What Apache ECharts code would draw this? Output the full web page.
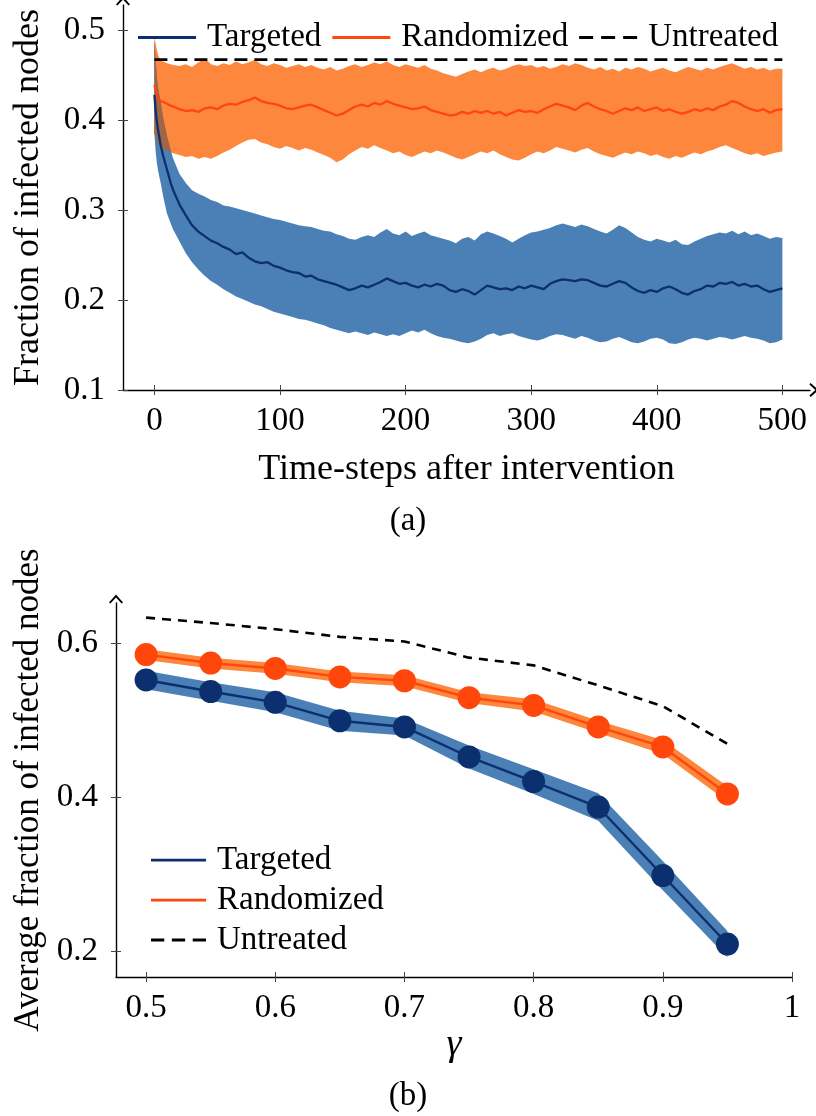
<!DOCTYPE html>
<html><head><meta charset="utf-8">
<script src="https://cdn.jsdelivr.net/npm/echarts@6/dist/echarts.min.js"></script>
<style>html,body{margin:0;padding:0;background:#fff}#c{width:816px;height:1116px}</style>
</head><body><div id="c"></div><script>
// ---------- Panel (a) data ----------
const timesA = [0,1,2,3,5,7,10,13,
 15,20,25,30,35,40,45,50,55,60,
 65,70,75,80,85,90,95,100,105,110,
 115,120,125,130,135,140,145,150,155,160,
 165,170,175,180,185,190,195,200,205,210,
 215,220,225,230,235,240,245,250,255,260,
 265,270,275,280,285,290,295,300,305,310,
 315,320,325,330,335,340,345,350,355,360,
 365,370,375,380,385,390,395,400,405,410,
 415,420,425,430,435,440,445,450,455,460,
 465,470,475,480,485,490,495,500];
const tgtMeanA = [0.428,0.410,0.398,0.388,0.372,0.360,0.345,0.330,
 0.322,0.306,0.294,0.283,0.276,0.271,0.266,0.263,0.259,0.256,
 0.251,0.253,0.247,0.243,0.241,0.242,0.238,0.236,0.233,0.231,
 0.230,0.226,0.227,0.223,0.221,0.219,0.217,0.214,0.211,0.213,
 0.216,0.214,0.217,0.220,0.224,0.221,0.218,0.219,0.216,0.214,
 0.217,0.215,0.218,0.216,0.211,0.209,0.212,0.210,0.206,0.211,
 0.216,0.214,0.212,0.213,0.211,0.215,0.213,0.216,0.214,0.212,
 0.218,0.221,0.223,0.222,0.221,0.223,0.222,0.219,0.216,0.215,
 0.218,0.221,0.219,0.214,0.210,0.208,0.211,0.209,0.213,0.215,
 0.212,0.208,0.206,0.210,0.212,0.216,0.215,0.219,0.218,0.220,
 0.216,0.218,0.215,0.216,0.212,0.209,0.211,0.213];
const tgtHiA = [0.489,0.465,0.447,0.435,0.420,0.402,0.382,0.366,
 0.357,0.340,0.330,0.322,0.318,0.315,0.311,0.309,0.305,0.304,
 0.302,0.300,0.298,0.296,0.294,0.292,0.290,0.289,0.287,0.285,
 0.283,0.282,0.281,0.279,0.277,0.276,0.273,0.271,0.268,0.267,
 0.270,0.272,0.270,0.275,0.279,0.274,0.272,0.276,0.271,0.274,
 0.276,0.272,0.270,0.268,0.266,0.263,0.268,0.270,0.266,0.273,
 0.276,0.274,0.271,0.268,0.264,0.268,0.272,0.275,0.276,0.278,
 0.280,0.283,0.285,0.283,0.281,0.284,0.282,0.279,0.276,0.274,
 0.278,0.283,0.280,0.275,0.270,0.267,0.265,0.268,0.266,0.264,
 0.267,0.262,0.261,0.265,0.268,0.271,0.273,0.275,0.274,0.277,
 0.273,0.276,0.272,0.274,0.271,0.268,0.270,0.269];
const tgtLoA = [0.385,0.365,0.352,0.343,0.330,0.315,0.296,0.285,
 0.278,0.265,0.252,0.242,0.234,0.227,0.221,0.217,0.212,0.208,
 0.204,0.201,0.198,0.195,0.193,0.190,0.187,0.185,0.183,0.181,
 0.179,0.178,0.176,0.174,0.172,0.169,0.167,0.165,0.163,0.165,
 0.163,0.161,0.164,0.162,0.160,0.162,0.160,0.163,0.166,0.164,
 0.167,0.163,0.160,0.158,0.157,0.155,0.153,0.152,0.154,0.157,
 0.161,0.163,0.160,0.162,0.163,0.160,0.158,0.156,0.155,0.157,
 0.160,0.162,0.161,0.159,0.157,0.160,0.158,0.155,0.153,0.154,
 0.157,0.159,0.156,0.153,0.152,0.154,0.157,0.158,0.156,0.152,
 0.151,0.153,0.156,0.158,0.157,0.155,0.157,0.159,0.158,0.156,
 0.158,0.160,0.158,0.157,0.155,0.152,0.153,0.156];
const rndMeanA = [0.439,0.433,0.428,0.424,0.421,0.420,0.418,0.416,
 0.415,0.412,0.410,0.411,0.409,0.413,0.414,0.412,0.416,0.418,
 0.417,0.420,0.422,0.425,0.421,0.419,0.418,0.416,0.413,0.412,
 0.414,0.416,0.417,0.414,0.411,0.408,0.405,0.407,0.411,0.415,
 0.417,0.415,0.419,0.417,0.421,0.418,0.416,0.414,0.412,0.413,
 0.415,0.411,0.409,0.407,0.405,0.406,0.409,0.407,0.410,0.408,
 0.410,0.407,0.409,0.405,0.408,0.411,0.409,0.410,0.408,0.412,
 0.415,0.418,0.416,0.414,0.411,0.416,0.419,0.415,0.412,0.410,
 0.407,0.410,0.413,0.411,0.414,0.410,0.412,0.414,0.410,0.412,
 0.409,0.407,0.409,0.412,0.410,0.413,0.411,0.415,0.417,0.421,
 0.419,0.415,0.412,0.410,0.412,0.408,0.411,0.412];
const rndHiA = [0.493,0.485,0.478,0.472,0.466,0.465,0.463,0.462,
 0.461,0.460,0.462,0.459,0.464,0.469,0.462,0.460,0.463,0.461,
 0.465,0.462,0.464,0.467,0.462,0.460,0.463,0.461,0.458,0.460,
 0.462,0.459,0.461,0.458,0.456,0.459,0.455,0.457,0.460,0.462,
 0.459,0.461,0.464,0.462,0.465,0.461,0.459,0.462,0.460,0.458,
 0.461,0.457,0.455,0.452,0.450,0.448,0.451,0.454,0.456,0.453,
 0.456,0.458,0.455,0.457,0.460,0.462,0.460,0.461,0.458,0.460,
 0.457,0.459,0.462,0.460,0.463,0.461,0.458,0.456,0.459,0.455,
 0.457,0.454,0.458,0.456,0.459,0.457,0.454,0.456,0.458,0.455,
 0.453,0.456,0.459,0.457,0.455,0.458,0.456,0.459,0.461,0.463,
 0.460,0.457,0.459,0.456,0.458,0.455,0.457,0.457];
const rndLoA = [0.385,0.381,0.377,0.374,0.370,0.368,0.366,0.364,
 0.363,0.361,0.359,0.360,0.357,0.359,0.357,0.360,0.364,0.367,
 0.371,0.375,0.378,0.379,0.375,0.373,0.370,0.368,0.371,0.369,
 0.366,0.369,0.367,0.364,0.361,0.358,0.353,0.356,0.362,0.366,
 0.370,0.368,0.372,0.369,0.366,0.363,0.365,0.361,0.359,0.362,
 0.365,0.363,0.366,0.364,0.361,0.358,0.356,0.359,0.362,0.365,
 0.363,0.366,0.362,0.359,0.356,0.355,0.358,0.362,0.365,0.363,
 0.366,0.370,0.368,0.366,0.364,0.367,0.369,0.365,0.362,0.360,
 0.358,0.361,0.364,0.362,0.365,0.363,0.360,0.362,0.359,0.357,
 0.360,0.358,0.361,0.364,0.362,0.365,0.367,0.370,0.372,0.369,
 0.366,0.363,0.361,0.363,0.360,0.362,0.364,0.365];
const untreatedA = 0.467;
const untreatedSpanA = [0, 500];
const xTicksA = [0,100,200,300,400,500];
const yTicksA = [0.1,0.2,0.3,0.4,0.5];

// ---------- Panel (b) data ----------
const gammaB = [0.5,0.55,0.6,0.65,0.7,0.75,0.8,0.85,0.9,0.95];
const tgtB   = [0.552,0.537,0.523,0.499,0.491,0.452,0.420,0.387,0.298,0.209];
const tgtHiB = [0.564,0.549,0.536,0.512,0.502,0.467,0.436,0.405,0.317,0.226];
const tgtLoB = [0.540,0.525,0.510,0.486,0.480,0.437,0.404,0.369,0.279,0.192];
const rndB   = [0.585,0.574,0.567,0.556,0.551,0.529,0.519,0.491,0.465,0.404];
const rndHiB = [0.592,0.581,0.574,0.563,0.558,0.536,0.527,0.499,0.474,0.414];
const rndLoB = [0.578,0.567,0.560,0.549,0.544,0.522,0.511,0.483,0.456,0.394];
const untB   = [0.633,0.626,0.618,0.608,0.602,0.581,0.571,0.545,0.518,0.469];
const xTicksB = [0.5,0.6,0.7,0.8,0.9,1];
const yTicksB = [0.2,0.4,0.6];

// ---------- styles ----------
const FONT = 'Liberation Serif';
const NAVY = '#0b2f6f', BLUEBAND = '#4a80b5';
const ORANGE = '#ff470c', ORANGEBAND = '#fd873d', BROWN = '#a06644';
const ARROW = 'path://M0,0 L7,8 L5.6,9.2 L0,3.2 L-5.6,9.2 L-7,8 Z';
const ICON_LINE = 'path://M0,0 L60,0 L60,3 L0,3 Z';
const ICON_DASH = 'path://M0,0 L14,0 L14,3 L0,3 Z M22,0 L36,0 L36,3 L22,3 Z M44,0 L58,0 L58,3 L44,3 Z';

function pairs(xs, ys){ return xs.map((x,i)=>[x, ys[i]]); }
function band(xs, lo, hi, color, gi){
  return {
    type:'custom', xAxisIndex: gi*2, yAxisIndex: gi*2, silent:true, z:1,
    data: xs.map((x,i)=>[x, lo[i], hi[i]]),
    encode:{x:0, y:[1,2]},
    renderItem: function(params, api){
      if (params.dataIndex !== 0) return null;
      const pts = [];
      for (let i=0;i<xs.length;i++) pts.push(api.coord([xs[i], hi[i]]));
      for (let i=xs.length-1;i>=0;i--) pts.push(api.coord([xs[i], lo[i]]));
      return {type:'polygon', shape:{points:pts}, style:{fill:color}};
    }
  };
}
// overlap of the two shaded bands in panel (a)
const ovX=[], ovLo=[], ovHi=[];
for (let i=0;i<timesA.length;i++){
  const lo = Math.max(tgtLoA[i], rndLoA[i]), hi = Math.min(tgtHiA[i], rndHiA[i]);
  if (hi > lo){ ovX.push(timesA[i]); ovLo.push(lo); ovHi.push(hi); } else break;
}

function axisPair(kind, gi, min, max, ticks, fmt, name, nameGap, nameStyle, labelMargin, arrow){
  const main = {
    type:'value', gridIndex:gi, min:min, max:max,
    axisLine:{show:true, onZero:false, lineStyle:{color:'#000', width:1.4},
      symbol: arrow ? ['none', ARROW] : ['none','none'], symbolSize:[14,10], symbolOffset:[0,4]},
    axisTick:{show:true, customValues:ticks, length:5, lineStyle:{color:'#444', width:1}},
    axisLabel:{customValues:ticks, formatter:fmt, fontFamily:FONT, fontSize:33, color:'#000', margin:labelMargin},
    splitLine:{show:false},
    name:name, nameLocation:'middle', nameGap:nameGap, nameTextStyle:nameStyle
  };
  const inner = {
    type:'value', gridIndex:gi, min:min, max:max,
    axisLine:{show:false, onZero:false}, axisLabel:{show:false}, splitLine:{show:false},
    axisTick:{show:true, inside:true, customValues:ticks, length:5, lineStyle:{color:'#444', width:1}}
  };
  if (kind==='x'){ main.position='bottom'; inner.position='bottom'; }
  else { main.position='left'; inner.position='left'; }
  return [main, inner];
}
const fmt1 = v => v.toFixed(1);
const fmtB = v => (Math.abs(v-1)<1e-9 ? '1' : v.toFixed(1));
const fmtInt = v => String(Math.round(v));
const titleStyle = {fontFamily:FONT, fontSize:36, color:'#000'};

const xA = axisPair('x',0,-25,522,xTicksA,fmtInt,'Time-steps after intervention',62,titleStyle,15,true);
const yA = axisPair('y',0,0.1,0.5278,yTicksA,fmt1,'Fraction of infected nodes',76,titleStyle,18,true);
const xB = axisPair('x',1,0.4767,1.0,xTicksB,fmtB,'γ',40,{fontFamily:FONT, fontSize:38, fontStyle:'italic', color:'#000'},15,false);
const yB = axisPair('y',1,0.1662,0.652,yTicksB,fmt1,'Average fraction of infected nodes',70,{fontFamily:FONT, fontSize:35, color:'#000'},18,true);

const legendText = {fontFamily:FONT, fontSize:33, color:'#000', padding:[0,0,0,6]};
const legendItems = [
  {name:'Targeted', icon:ICON_LINE},
  {name:'Randomized', icon:ICON_LINE},
  {name:'Untreated', icon:ICON_DASH}
];

const option = {
  animation:false,
  backgroundColor:'#fff',
  textStyle:{fontFamily:FONT},
  grid:[
    {left:123, top:5, width:687, height:385},
    {left:116, top:603, width:676, height:374}
  ],
  xAxis:[xA[0], xA[1], xB[0], xB[1]],
  yAxis:[yA[0], yA[1], yB[0], yB[1]],
  legend:[
    {data:legendItems, left:133, top:16, orient:'horizontal',
     itemWidth:58, itemHeight:3, itemGap:11, textStyle:legendText},
    {data:legendItems, left:146, top:838, orient:'vertical',
     itemWidth:55, itemHeight:3, itemGap:6, textStyle:Object.assign({lineHeight:34}, legendText)}
  ],
  graphic:[
    {type:'text', left:'center', top:505, style:{text:'(a)', font:'33px Liberation Serif', fill:'#000'}},
    {type:'text', left:'center', top:1080, style:{text:'(b)', font:'33px Liberation Serif', fill:'#000'}}
  ],
  series:[
    band(timesA, rndLoA, rndHiA, ORANGEBAND, 0),
    band(timesA, tgtLoA, tgtHiA, BLUEBAND, 0),
    band(ovX, ovLo, ovHi, BROWN, 0),
    {type:'line', name:'Untreated', xAxisIndex:0, yAxisIndex:0, symbol:'none', z:5,
     data: untreatedSpanA.map(t=>[t, untreatedA]),
     lineStyle:{color:'#000', width:2.8, type:[13,7]}, itemStyle:{color:'#000'}},
    {type:'line', name:'Randomized', xAxisIndex:0, yAxisIndex:0, symbol:'none', z:4,
     data: pairs(timesA, rndMeanA), lineStyle:{color:ORANGE, width:2.3}, itemStyle:{color:ORANGE}},
    {type:'line', name:'Targeted', xAxisIndex:0, yAxisIndex:0, symbol:'none', z:4,
     data: pairs(timesA, tgtMeanA), lineStyle:{color:NAVY, width:2.3}, itemStyle:{color:NAVY}},

    band(gammaB, tgtLoB, tgtHiB, BLUEBAND, 1),
    band(gammaB, rndLoB, rndHiB, ORANGEBAND, 1),
    {type:'line', name:'Untreated', xAxisIndex:2, yAxisIndex:2, symbol:'none', z:5,
     data: pairs(gammaB, untB), lineStyle:{color:'#000', width:2.6, type:[9,7]}, itemStyle:{color:'#000'}},
    {type:'line', name:'Randomized', xAxisIndex:2, yAxisIndex:2, symbol:'none', z:4,
     data: pairs(gammaB, rndB), lineStyle:{color:ORANGE, width:2.4}, itemStyle:{color:ORANGE}},
    {type:'line', name:'Targeted', xAxisIndex:2, yAxisIndex:2, symbol:'none', z:4,
     data: pairs(gammaB, tgtB), lineStyle:{color:NAVY, width:2.4}, itemStyle:{color:NAVY}},
    {type:'scatter', xAxisIndex:2, yAxisIndex:2, symbol:'circle', symbolSize:23, z:6,
     data: pairs(gammaB, rndB), itemStyle:{color:ORANGE, opacity:1}},
    {type:'scatter', xAxisIndex:2, yAxisIndex:2, symbol:'circle', symbolSize:23, z:6,
     data: pairs(gammaB, tgtB), itemStyle:{color:NAVY, opacity:1}}
  ]
};
const chart = echarts.init(document.getElementById('c'), null, {renderer:'canvas'});
chart.setOption(option);
</script></body></html>
